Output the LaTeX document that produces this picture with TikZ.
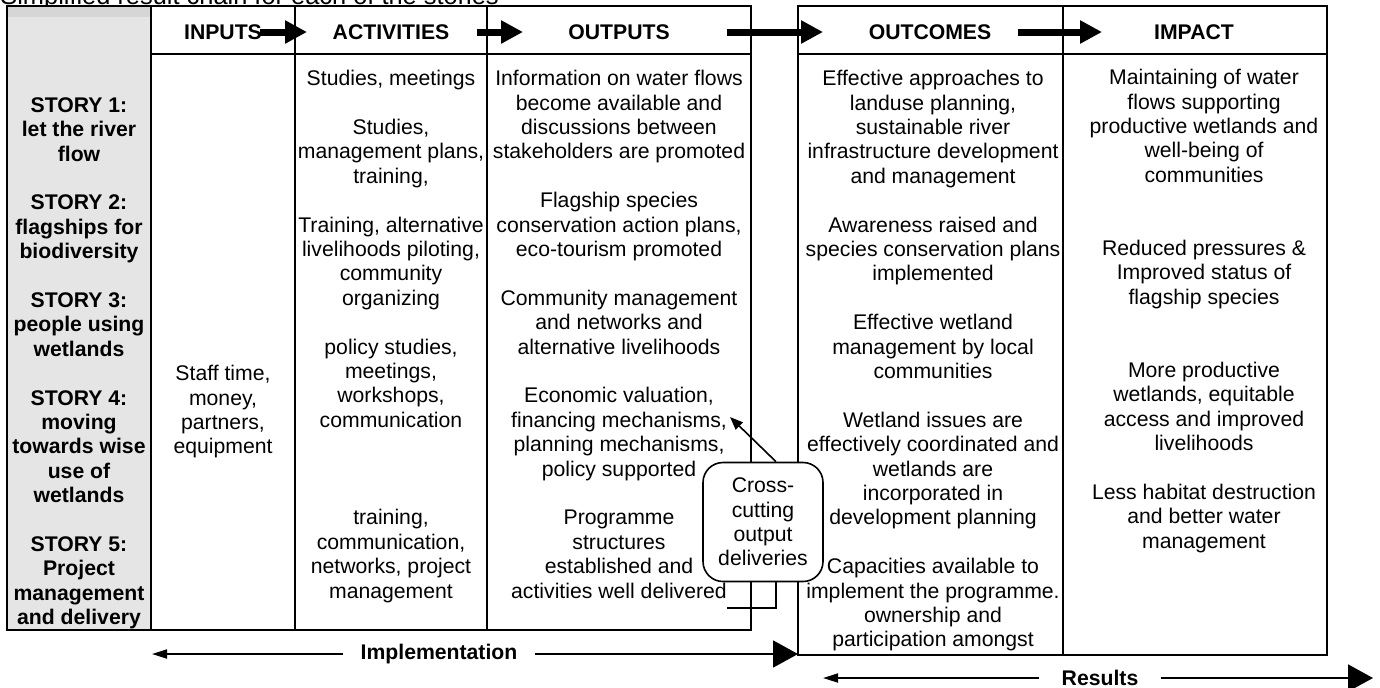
\documentclass[tikz,border=0pt]{standalone}
\usepackage{fontspec}
\setmainfont{Liberation Sans}
\usetikzlibrary{arrows.meta}

\definecolor{storygray}{gray}{0.9}
\definecolor{bandgray}{gray}{0.84}

\tikzset{
  tabline/.style={line width=1pt},
  txt/.style={font=\fontsize{10.6}{12.2}\selectfont, align=center, inner sep=0pt},
  cell/.style={txt, anchor=north},
  storycell/.style={cell, font=\fontsize{10.6}{12.2}\selectfont\bfseries},
  headcell/.style={txt, font=\fontsize{10.6}{12.2}\selectfont\bfseries},
  fatarrow/.style={line width=3.5pt, -{Triangle[length=11pt,width=11pt]}},
  spanline/.style={line width=0.9pt, -{Triangle[length=12.5pt,width=13.5pt]}},
  backline/.style={line width=0.9pt, -{Triangle[length=7.5pt,width=4.5pt]}},
  crossbox/.style={txt, draw, fill=white, line width=0.8pt, rounded corners=10pt,
    minimum width=60pt, minimum height=59.5pt},
  pointer/.style={line width=0.8pt, -{Triangle[length=6.5pt,width=5pt]}}
}

\begin{document}
\begin{tikzpicture}[x=0.5pt,y=-0.5pt]
\useasboundingbox (0,0) rectangle (1380,687);
\clip (0,0) rectangle (1380,687);

% title line, cut by the top edge
\node[anchor=base west, inner sep=0pt, font=\fontsize{12.7}{15}\selectfont] (title) at (0,4) {Simplified result chain for each of the stories};

% story column
\fill[storygray] (7,6) rectangle (151,630);
\fill[bandgray] (7,6) rectangle (151,17);

% implementation part
\draw[tabline] (7,6) rectangle (751,630);
\draw[tabline] (151,54) -- (751,54);
\foreach \x in {151,295,487}{
\draw[tabline] (\x,6) -- (\x,630);
}

% results part
\draw[tabline] (798,6) rectangle (1327,655);
\draw[tabline] (798,54) -- (1327,54);
\draw[tabline] (1063,6) -- (1063,655);

% headings
\node[headcell] (inputs) at (223,32) {INPUTS};
\node[headcell] (activities) at (391,32) {ACTIVITIES};
\node[headcell] (outputs) at (619,32) {OUTPUTS};
\node[headcell] (outcomes) at (930,32) {OUTCOMES};
\node[headcell] (impact) at (1194,32) {IMPACT};

\foreach \a/\b in {260/307, 477/523, 727/823, 1018/1102}{
\draw[fatarrow] (\a,32) -- (\b,32);
}

% cell texts
\node[storycell] (storycol) at (79,97) {STORY 1:\\let the river\\flow\\[\baselineskip]
STORY 2:\\flagships for\\biodiversity\\[\baselineskip]
STORY 3:\\people using\\wetlands\\[\baselineskip]
STORY 4:\\moving\\towards wise\\use of\\wetlands\\[\baselineskip]
STORY 5:\\Project\\management\\and delivery};

\node[cell] (inputcol) at (223,365) {Staff time,\\money,\\partners,\\equipment};

\node[cell] (activitycol) at (391,70) {Studies, meetings\\[\baselineskip]
Studies,\\management plans,\\training,\\[\baselineskip]
Training, alternative\\livelihoods piloting,\\community\\organizing\\[\baselineskip]
policy studies,\\meetings,\\workshops,\\communication\\[3\baselineskip]
training,\\communication,\\networks, project\\management};

\node[cell] (outputcol) at (619,70) {Information on water flows\\become available and\\discussions between\\stakeholders are promoted\\[\baselineskip]
Flagship species\\conservation action plans,\\eco-tourism promoted\\[\baselineskip]
Community management\\and networks and\\alternative livelihoods\\[\baselineskip]
Economic valuation,\\financing mechanisms,\\planning mechanisms,\\policy supported\\[\baselineskip]
Programme\\structures\\established and\\activities well delivered};

\node[cell] (outcomecol) at (933,70) {Effective approaches to\\landuse planning,\\sustainable river\\infrastructure development\\and management\\[\baselineskip]
Awareness raised and\\species conservation plans\\implemented\\[\baselineskip]
Effective wetland\\management by local\\communities\\[\baselineskip]
Wetland issues are\\effectively coordinated and\\wetlands are\\incorporated in\\development planning\\[\baselineskip]
Capacities available to\\implement the programme.\\ownership and\\participation amongst};

\node[cell] (impactcol) at (1204,69) {Maintaining of water\\flows supporting\\productive wetlands and\\well-being of\\communities\\[2\baselineskip]
Reduced pressures \&\\Improved status of\\flagship species\\[2\baselineskip]
More productive\\wetlands, equitable\\access and improved\\livelihoods\\[\baselineskip]
Less habitat destruction\\and better water\\management};

% cross-cutting outputs
\node[crossbox] (cross) at (763,522) {Cross-\\cutting\\output\\deliveries};
\coordinate (econ) at (730,417);
\coordinate (deliv) at (727,608);
\draw[pointer] ([xshift=6.5pt]cross.north) -- (econ);
\draw[line width=0.8pt] ([xshift=6.5pt]cross.south) |- (deliv);

% spans along the bottom
\node[headcell, inner xsep=8.5pt] (impl) at (439,654) {Implementation};
\coordinate (implL) at (152,654);
\coordinate (implR) at (798,654);
\draw[backline] (impl.west) -- (implL);
\draw[spanline] (impl.east) -- (implR);

\node[headcell, inner xsep=11pt] (res) at (1100,678) {Results};
\coordinate (resL) at (823,678);
\coordinate (resR) at (1373,678);
\draw[backline] (res.west) -- (resL);
\draw[spanline] (res.east) -- (resR);
\end{tikzpicture}
\end{document}
